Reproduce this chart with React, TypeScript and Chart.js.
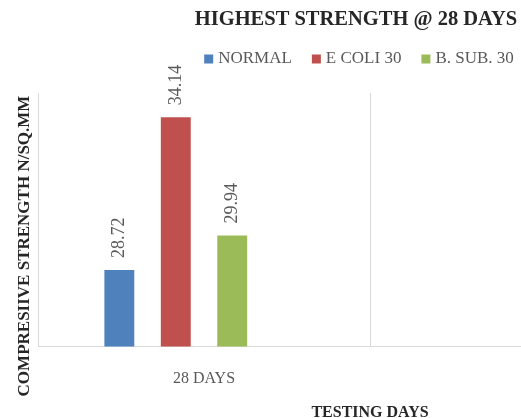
import React, { useEffect, useRef } from 'react';
import { Chart, registerables } from 'chart.js';

Chart.register(...registerables);

const categories = ['28 DAYS', ''];
const seriesNames = ['NORMAL', 'E COLI 30', 'B. SUB. 30'];
const normalValues = [28.72, null];
const ecoliValues = [34.14, null];
const bsubValues = [29.94, null];
const spacerValues = [null, null];
const seriesColors = ['#4F81BD', '#C0504D', '#9BBB59'];
const chartTitle = 'HIGHEST STRENGTH @ 28 DAYS';
const xTitle = 'TESTING DAYS';
const yTitle = 'COMPRESIIVE STRENGTH N/SQ.MM';
const yMin = 26;
const yMax = 35;

const SERIF = '"Liberation Serif", "Times New Roman", serif';

const decorPlugin = {
  id: 'decor',
  afterDatasetsDraw(chart: any) {
    const ctx = chart.ctx;
    ctx.save();
    ctx.font = `18px ${SERIF}`;
    ctx.fillStyle = '#595959';
    ctx.textAlign = 'left';
    ctx.textBaseline = 'middle';
    chart.data.datasets.forEach((ds: any, i: number) => {
      const meta = chart.getDatasetMeta(i);
      meta.data.forEach((el: any, j: number) => {
        const v = ds.data[j];
        if (v == null) return;
        ctx.save();
        ctx.translate(el.x, el.y - 12);
        ctx.rotate(-Math.PI / 2);
        ctx.fillText(Number(v).toFixed(2), 0, 0);
        ctx.restore();
      });
    });
    ctx.restore();
  },
  afterDraw(chart: any) {
    const ctx = chart.ctx;
    ctx.save();
    // title
    ctx.font = `bold 20.5px ${SERIF}`;
    ctx.fillStyle = '#262626';
    ctx.textAlign = 'center';
    ctx.textBaseline = 'middle';
    ctx.fillText(chartTitle, 356, 20);

    // legend
    ctx.font = `17px ${SERIF}`;
    const box = 9;
    const gap = 5;
    const spacing = 20;
    const widths = seriesNames.map((n) => ctx.measureText(n).width);
    const total = widths.reduce((a, w) => a + box + gap + w, 0) + spacing * (seriesNames.length - 1);
    let x = 359 - total / 2;
    const ly = 59;
    ctx.textAlign = 'left';
    seriesNames.forEach((n, i) => {
      ctx.fillStyle = seriesColors[i];
      ctx.fillRect(x, ly - box / 2, box, box);
      ctx.fillStyle = '#595959';
      ctx.fillText(n, x + box + gap, ly);
      x += box + gap + widths[i] + spacing;
    });

    // y title
    ctx.font = `bold 17px ${SERIF}`;
    ctx.fillStyle = '#262626';
    ctx.textAlign = 'center';
    ctx.translate(25, 246);
    ctx.rotate(-Math.PI / 2);
    ctx.fillText(yTitle, 0, 0);
    ctx.restore();
  },
};

export default function App() {
  const ref = useRef<HTMLCanvasElement | null>(null);
  useEffect(() => {
    if (!ref.current) return;
    const valuesList = [normalValues, ecoliValues, bsubValues];
    const datasets: any[] = valuesList.map((vals, i) => ({
      label: seriesNames[i],
      data: vals,
      backgroundColor: seriesColors[i],
      borderWidth: 0,
      categoryPercentage: 0.68,
      barPercentage: 0.53,
    }));
    datasets.push({
      label: '',
      data: spacerValues,
      backgroundColor: 'transparent',
      borderWidth: 0,
      categoryPercentage: 0.68,
      barPercentage: 0.53,
    });
    const chart = new Chart(ref.current, {
      type: 'bar',
      data: { labels: categories, datasets },
      options: {
        animation: false,
        responsive: false,
        devicePixelRatio: 1,
        layout: { padding: { left: 38, right: 10, top: 93, bottom: 0 } },
        plugins: {
          legend: { display: false },
          title: { display: false },
          tooltip: { enabled: false },
        },
        scales: {
          x: {
            grid: { display: true, color: '#D9D9D9', lineWidth: 1, drawTicks: false, offset: true },
            border: { display: true, color: '#D9D9D9', width: 1 },
            ticks: { font: { family: SERIF, size: 16 }, color: '#595959', padding: 23, maxRotation: 0 },
            title: {
              display: true,
              text: xTitle,
              font: { family: SERIF, size: 16, weight: 'bold' },
              color: '#262626',
              padding: { top: -9, bottom: 4 },
            },
          },
          y: {
            display: false,
            min: yMin,
            max: yMax,
          },
        },
      },
      plugins: [decorPlugin],
    });
    return () => chart.destroy();
  }, []);

  return (
    <div
      style={{
        position: 'fixed',
        left: 0,
        top: 0,
        width: 521,
        height: 418,
        overflow: 'hidden',
        background: '#fff',
      }}
    >
      <canvas ref={ref} width={712} height={426} style={{ display: 'block' }} />
    </div>
  );
}
